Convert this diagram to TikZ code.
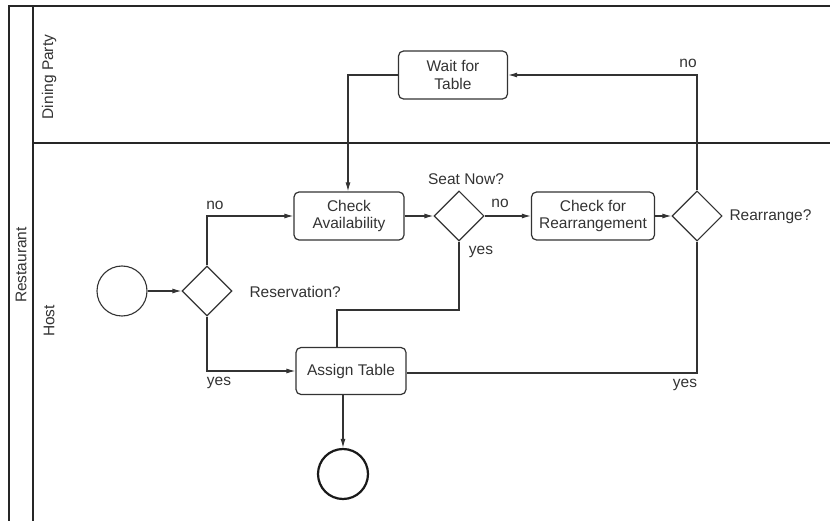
\documentclass[tikz,border=0pt]{standalone}
\usepackage{fontspec}
\setmainfont{Liberation Sans}
\usetikzlibrary{shapes.geometric,arrows.meta}
\begin{document}
\begin{tikzpicture}[x=1pt,y=-1pt,
  ink/.style={black!80},
  every node/.style={font=\fontsize{15.5}{17.5}\selectfont, text=black!80},
  task/.style={draw=black!80, line width=1.2pt, rounded corners=5pt, align=center, inner sep=0pt, minimum height=48pt},
  gate/.style={draw=black!80, line width=1.1pt, diamond, minimum width=50pt, minimum height=50pt, inner sep=0pt},
  startev/.style={draw=black!80, line width=1.1pt, circle, minimum size=50pt, inner sep=0pt},
  endev/.style={draw=black!90, line width=2.2pt, circle, minimum size=50pt, inner sep=0pt},
  flow/.style={draw=black!80, line width=1.1pt, -{Latex[length=9pt,width=5pt]}},
  joinline/.style={draw=black!80, line width=1.1pt},
  frame/.style={draw=black!85, line width=1.4pt},
  lane/.style={rotate=90}]
\useasboundingbox (0,0) rectangle (830,521);

% pool and lanes
\draw[frame] (9,521) -- (9,6) -- (830,6);
\draw[frame] (33,6) -- (33,521);
\draw[frame] (33,143) -- (830,143);
\node[lane] (pool) at (21,265) {Restaurant};
\node[lane] (lane1) at (49,77) {Dining Party};
\node[lane] (lane2) at (49,321) {Host};

% events, tasks and gateways
\node[startev] (start) at (122,291) {};
\node[gate] (resv) at (207,291) {};
\node[task, minimum width=110pt] (check) at (349,216) {Check\\Availability};
\node[task, minimum width=109pt] (wait) at (453,75) {Wait for\\Table};
\node[gate] (seat) at (459,216) {};
\node[task, minimum width=123pt] (checkr) at (593,216) {Check for\\Rearrangement};
\node[gate] (rearr) at (697,216) {};
\node[task, minimum width=110pt, minimum height=47pt] (assign) at (351,371) {Assign Table};
\node[endev] (end) at (343,474) {};

% gateway captions
\node[anchor=west] (resvq) at (246,292) {Reservation?};
\node (seatq) at (466,179) {Seat Now?};
\node[anchor=west] (rearrq) at (726,217) {Rearrange?};

% sequence flows
\draw[flow] (start) -- (resv);
\draw[flow] (resv.north) |- (check.west);
\node (no1) at (215,205) {no};
\draw[flow] (resv.south) |- (assign.west);
\node (yes1) at (219,383) {yes};
\draw[flow] (check) -- (seat);
\draw[flow] (seat) -- (checkr);
\node (no2) at (500,203) {no};
\draw[flow] (checkr) -- (rearr);
\draw[flow] (rearr.north) |- (wait.east);
\node (no3) at (688,63) {no};
\draw[flow] (wait.west) -| ([xshift=-1pt]check.north);
\coordinate (j1) at (337,310);
\draw[joinline] (seat.south) |- (j1) -- (j1 |- assign.north);
\node (yes2) at (481,252) {yes};
\draw[joinline] (rearr.south) |- ([yshift=-2pt]assign.east);
\node (yes3) at (685,385) {yes};
\draw[flow] (assign.south -| end) -- (end.north);
\end{tikzpicture}
\end{document}
